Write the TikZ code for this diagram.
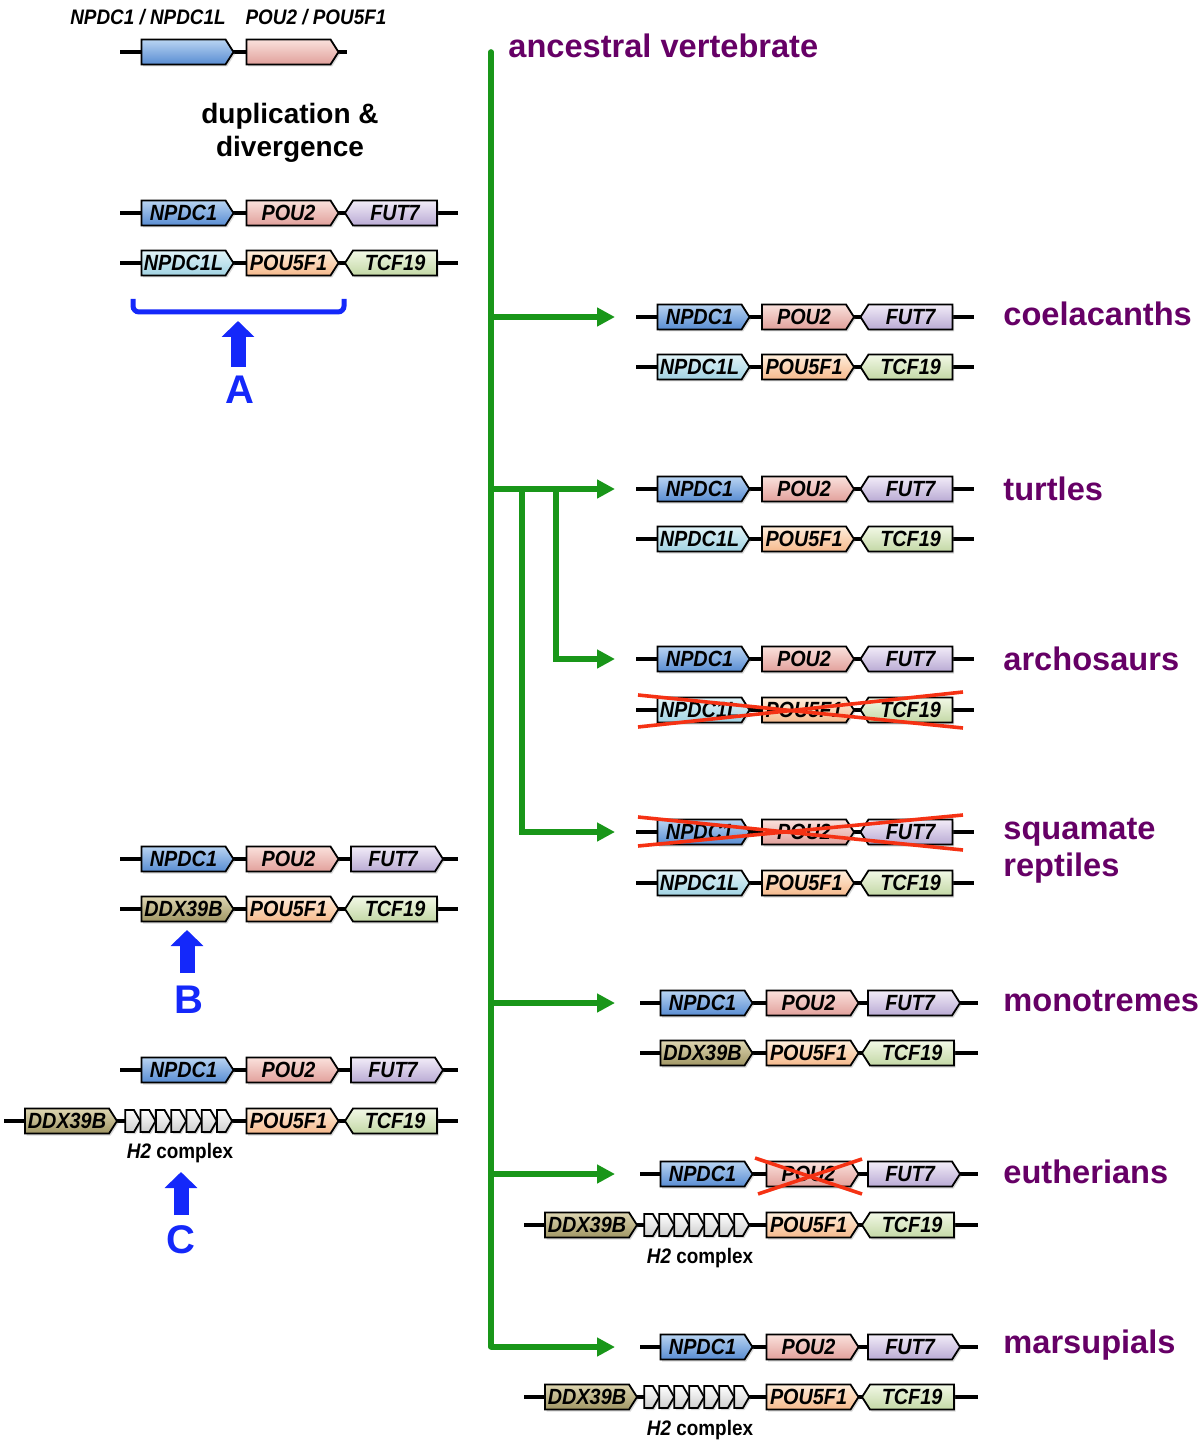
\documentclass[tikz,border=0pt]{standalone}
\usepackage{fontspec}
\setmainfont{Liberation Sans}
\newfontfamily\genefont[FakeStretch=0.9]{Liberation Sans}
\usetikzlibrary{shapes.symbols, shadows, arrows.meta}

\definecolor{npdcT}{RGB}{185,212,242}
\definecolor{npdcB}{RGB}{88,140,210}
\definecolor{pouT}{RGB}{250,225,220}
\definecolor{pouB}{RGB}{225,160,155}
\definecolor{futT}{RGB}{242,236,248}
\definecolor{futB}{RGB}{185,170,212}
\definecolor{npdclT}{RGB}{226,244,248}
\definecolor{npdclB}{RGB}{160,210,226}
\definecolor{pouvT}{RGB}{255,238,220}
\definecolor{pouvB}{RGB}{245,185,140}
\definecolor{tcfT}{RGB}{242,248,230}
\definecolor{tcfB}{RGB}{195,216,165}
\definecolor{ddxT}{RGB}{222,214,178}
\definecolor{ddxB}{RGB}{160,150,100}
\definecolor{htwoB}{RGB}{205,205,205}
\definecolor{treegreen}{RGB}{25,150,25}
\definecolor{taxpurple}{RGB}{102,0,102}
\definecolor{eventblue}{RGB}{20,40,250}
\definecolor{crossred}{RGB}{245,50,20}

\tikzset{
  gene/.style={signal, draw=black, line width=0.9pt, signal pointer angle=115,
    minimum width=46pt, minimum height=12.5pt, inner sep=0pt,
    font=\genefont\bfseries\itshape\fontsize{11}{12}\selectfont,
    drop shadow={shadow xshift=0.8pt, shadow yshift=-1pt, opacity=0.3}},
  fwd/.style={signal to=east},
  rev/.style={signal to=west},
  npdc/.style={top color=npdcT, bottom color=npdcB},
  pou/.style={top color=pouT, bottom color=pouB},
  fut/.style={top color=futT, bottom color=futB},
  npdcl/.style={top color=npdclT, bottom color=npdclB},
  pouv/.style={top color=pouvT, bottom color=pouvB},
  tcf/.style={top color=tcfT, bottom color=tcfB},
  ddx/.style={top color=ddxT, bottom color=ddxB},
  htwo/.style={gene, fwd, minimum width=7.5pt, minimum height=11pt,
    signal pointer angle=120, top color=white, bottom color=htwoB},
  dna/.style={line width=1.8pt},
  trunk/.style={draw=treegreen, line width=2.8pt, line cap=round},
  branch/.style={draw=treegreen, line width=2.8pt, -{Triangle[length=9pt,width=9pt]}},
  taxon/.style={anchor=west, text=taxpurple, align=left, inner sep=0pt,
    font=\bfseries\fontsize{16.3}{18.5}\selectfont},
  lost/.style={draw=crossred, line width=1.8pt},
  event/.style={draw=eventblue, line width=7.5pt, -{Triangle[length=8pt,width=16pt]}},
  eventlabel/.style={text=eventblue, font=\bfseries\fontsize{20}{24}\selectfont},
  bracket/.style={draw=eventblue, line width=2.5pt, rounded corners=3pt},
  note/.style={font=\genefont\bfseries\fontsize{10.5}{12}\selectfont}
}

\begin{document}
\begin{tikzpicture}[x=0.5pt, y=-0.5pt]
\useasboundingbox (0,0) rectangle (1200,1443);

% ancestral pair
\node[note, font=\genefont\bfseries\itshape\fontsize{10.5}{12}\selectfont] (anc-lab1) at (148,17) {NPDC1 / NPDC1L};
\node[note, font=\genefont\bfseries\itshape\fontsize{10.5}{12}\selectfont] (anc-lab2) at (316,17) {POU2 / POU5F1};
\draw[dna] (120,52) -- (347,52);
\node[gene, fwd, npdc] (anc-npdc) at (183.5,52) {};
\node[gene, fwd, pou] (anc-pou) at (288.5,52) {};
\node[font=\bfseries\fontsize{14}{16.5}\selectfont, align=center] (dup) at (290,133) {duplication \&\\divergence};

% event A
\draw[dna] (120,213) -- (458,213);
\node[gene, fwd, npdc] (a1-npdc) at (183.5,213) {NPDC1};
\node[gene, fwd, pou] (a1-pou) at (288.5,213) {POU2};
\node[gene, rev, fut] (a1-fut) at (395,213) {FUT7};
\draw[dna] (120,263) -- (458,263);
\node[gene, fwd, npdcl] (a2-npdc) at (183.5,263) {NPDC1L};
\node[gene, fwd, pouv] (a2-pou) at (288.5,263) {POU5F1};
\node[gene, rev, tcf] (a2-tcf) at (395,263) {TCF19};
\draw[bracket] (133,299) -- (133,312) -- (344,312) -- (344,299);
\draw[event] (238,367) -- (238,321);
\node[eventlabel] (ev-a) at (240,390) {A};

% event B
\draw[dna] (120,859) -- (458,859);
\node[gene, fwd, npdc] (b1-npdc) at (183.5,859) {NPDC1};
\node[gene, fwd, pou] (b1-pou) at (288.5,859) {POU2};
\node[gene, fwd, fut] (b1-fut) at (393,859) {FUT7};
\draw[dna] (120,909) -- (458,909);
\node[gene, fwd, ddx] (b2-ddx) at (183.5,909) {DDX39B};
\node[gene, fwd, pouv] (b2-pou) at (288.5,909) {POU5F1};
\node[gene, rev, tcf] (b2-tcf) at (395,909) {TCF19};
\draw[event] (187,973) -- (187,930);
\node[eventlabel] (ev-b) at (189,1000) {B};

% event C
\draw[dna] (120,1070) -- (458,1070);
\node[gene, fwd, npdc] (c1-npdc) at (183.5,1070) {NPDC1};
\node[gene, fwd, pou] (c1-pou) at (288.5,1070) {POU2};
\node[gene, fwd, fut] (c1-fut) at (393,1070) {FUT7};
\draw[dna] (4,1121) -- (458,1121);
\node[gene, fwd, ddx] (c2-ddx) at (67,1121) {DDX39B};
\foreach \i in {0,...,6}
  \node[htwo] (c2-h\i) at (129.6+15.3*\i,1121) {};
\node[gene, fwd, pouv] (c2-pou) at (288.5,1121) {POU5F1};
\node[gene, rev, tcf] (c2-tcf) at (395,1121) {TCF19};
\node[note] (c2-lab) at (180,1153) {\textit{H2} complex};
\draw[event] (181,1215) -- (181,1172);
\node[eventlabel] (ev-c) at (181,1240) {C};

% tree
\node[taxon] (t-anc) at (508,46) {ancestral vertebrate};
\coordinate (root) at (491,52);
\coordinate (base) at (491,1347);
\draw[trunk] (root) -- (base);
\draw[branch] (491,317) -- (615,317);
\draw[branch] (491,489) -- (615,489);
\draw[branch] (556,489) |- (615,659);
\draw[branch] (522,489) |- (615,832);
\draw[branch] (491,1003) -- (615,1003);
\draw[branch] (491,1174) -- (615,1174);
\draw[branch] (base) -- (615,1347);

% coelacanths, turtles, archosaurs, squamates
\foreach \y/\n in {317/co, 489/tu, 659/ar, 832/sq}{
  \draw[dna] (636,\y) -- (974,\y);
  \node[gene, fwd, npdc] (\n1-npdc) at (699.5,\y) {NPDC1};
  \node[gene, fwd, pou] (\n1-pou) at (804,\y) {POU2};
  \node[gene, rev, fut] (\n1-fut) at (910.5,\y) {FUT7};
}
\foreach \y/\n in {367/co, 539/tu, 710/ar, 883/sq}{
  \draw[dna] (636,\y) -- (974,\y);
  \node[gene, fwd, npdcl] (\n2-npdc) at (699.5,\y) {NPDC1L};
  \node[gene, fwd, pouv] (\n2-pou) at (804,\y) {POU5F1};
  \node[gene, rev, tcf] (\n2-tcf) at (910.5,\y) {TCF19};
}
\draw[lost] (638,695) -- (963,728);
\draw[lost] (638,727) -- (963,692);
\draw[lost] (638,817) -- (963,850);
\draw[lost] (638,846) -- (963,815);

% mammals
\foreach \y/\n in {1003/mo, 1174/eu, 1347/ma}{
  \draw[dna] (640,\y) -- (978,\y);
  \node[gene, fwd, npdc] (\n1-npdc) at (702.5,\y) {NPDC1};
  \node[gene, fwd, pou] (\n1-pou) at (808.5,\y) {POU2};
  \node[gene, fwd, fut] (\n1-fut) at (910,\y) {FUT7};
}
\draw[dna] (640,1053) -- (978,1053);
\node[gene, fwd, ddx] (mo2-ddx) at (702.5,1053) {DDX39B};
\node[gene, fwd, pouv] (mo2-pou) at (808.5,1053) {POU5F1};
\node[gene, rev, tcf] (mo2-tcf) at (912,1053) {TCF19};
\foreach \y/\n in {1225/eu, 1397/ma}{
  \draw[dna] (524,\y) -- (978,\y);
  \node[gene, fwd, ddx] (\n2-ddx) at (587,\y) {DDX39B};
  \foreach \i in {0,...,6}
    \node[htwo] (\n2-h\i) at (648.5+15*\i,\y) {};
  \node[gene, fwd, pouv] (\n2-pou) at (808.5,\y) {POU5F1};
  \node[gene, rev, tcf] (\n2-tcf) at (912,\y) {TCF19};
  \node[note] (\n2-lab) at (700,\y+33) {\textit{H2} complex};
}
\draw[lost] (755,1158) -- (862,1194);
\draw[lost] (758,1194) -- (862,1159);

% taxa
\node[taxon] (t-co) at (1003,314) {coelacanths};
\node[taxon] (t-tu) at (1003,489) {turtles};
\node[taxon] (t-ar) at (1003,659) {archosaurs};
\node[taxon] (t-sq) at (1003,851) {squamate\\reptiles};
\node[taxon] (t-mo) at (1003,1001) {monotremes};
\node[taxon] (t-eu) at (1003,1172) {eutherians};
\node[taxon] (t-ma) at (1003,1345) {marsupials};

\end{tikzpicture}
\end{document}
